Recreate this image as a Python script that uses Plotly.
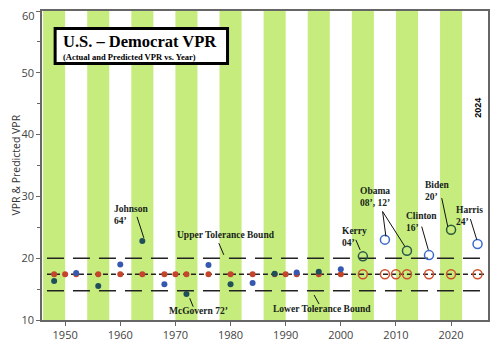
import plotly.graph_objects as go

# ---------------- data ----------------
band_starts = [1946, 1954, 1962, 1970, 1978, 1986, 1994, 2002, 2010, 2018]
band_width = 4

pred_years_filled = [1948, 1950, 1952, 1956, 1960, 1964, 1968, 1970, 1972, 1976,
                     1980, 1984, 1988, 1990, 1992, 1996, 2000]
pred_vals_filled = [17.4] * len(pred_years_filled)
pred_years_open = [2004, 2008, 2010, 2012, 2016, 2020, 2024.8]
pred_vals_open = [17.4] * len(pred_years_open)

act_years_filled = [1948, 1952, 1956, 1960, 1964, 1968, 1972, 1976, 1980, 1984,
                    1988, 1992, 1996, 2000]
act_vals_filled = [16.3, 17.6, 15.5, 19.0, 22.8, 15.8, 14.2, 18.9, 15.8, 16.0,
                   17.5, 17.7, 17.8, 18.2]
act_colors_filled = ["#1f4f5a", "#3558b0", "#1f4f5a", "#3558b0", "#1f4f5a", "#3558b0",
                     "#1f4f5a", "#3558b0", "#1f4f5a", "#3558b0", "#1f4f5a", "#3558b0",
                     "#1f4f5a", "#3558b0"]

act_years_open = [2004, 2008, 2012, 2016, 2020, 2024.8]
act_vals_open = [20.3, 23.0, 21.2, 20.5, 24.6, 22.3]
act_colors_open = ["#2a5a4a", "#3a6acb", "#2a5a4a", "#3a6acb", "#2c5a3a", "#3a6acb"]

predicted_level = 17.4
upper_bound = 20.0
lower_bound = 14.75
line_span = [1946.7, 2026.4]

x_ticks = [1950, 1960, 1970, 1980, 1990, 2000, 2010, 2020]
y_ticks = [10, 20, 30, 40, 50, 60]
y_tick_labels = ["10", "20", "30", "40", "50", "60"]

# ---------------- layout helpers (pixel -> data) ----------------
def X(px):
    return 1950 + (px - 65) / 5.5

def Y(py):
    return 10 + (320 - py) / 6.17

GREEN = "#c5ec7c"
TXT = "#17241a"
SERIF = "Liberation Serif, Times New Roman, serif"
TICKFONT = dict(family="Open Sans, sans-serif", size=11, color="#444")

fig = go.Figure()

# tolerance bounds & predicted line
fig.add_trace(go.Scatter(x=line_span, y=[upper_bound] * 2, mode="lines",
                         line=dict(color="#222", width=1.5, dash="17px,9px"),
                         hoverinfo="skip", showlegend=False))
fig.add_trace(go.Scatter(x=line_span, y=[lower_bound] * 2, mode="lines",
                         line=dict(color="#222", width=1.5, dash="17px,9px"),
                         hoverinfo="skip", showlegend=False))
fig.add_trace(go.Scatter(x=line_span, y=[predicted_level] * 2, mode="lines",
                         line=dict(color="#222", width=1.4, dash="5px,3px"),
                         hoverinfo="skip", showlegend=False))

# predicted points
fig.add_trace(go.Scatter(x=pred_years_filled, y=pred_vals_filled, mode="markers",
                         marker=dict(color="#c4452c", size=6), showlegend=False))
fig.add_trace(go.Scatter(x=pred_years_open, y=pred_vals_open, mode="markers",
                         marker=dict(symbol="circle-open", color="#d0502c", size=9,
                                     line=dict(width=1.5)), showlegend=False))
# actual points
fig.add_trace(go.Scatter(x=act_years_filled, y=act_vals_filled, mode="markers",
                         marker=dict(color=act_colors_filled, size=6), showlegend=False))
fig.add_trace(go.Scatter(x=act_years_open, y=act_vals_open, mode="markers",
                         marker=dict(symbol="circle-open", color=act_colors_open, size=9,
                                     line=dict(width=1.5)), showlegend=False))

shapes = []
for s in band_starts:
    shapes.append(dict(type="rect", xref="x", yref="y", x0=s, x1=s + band_width,
                       y0=10, y1=60, fillcolor=GREEN, line=dict(width=0), layer="below"))

# title box
shapes.append(dict(type="rect", xref="x", yref="y", x0=X(55), x1=X(227), y0=Y(64), y1=Y(29),
                   fillcolor="white", line=dict(color="black", width=3), layer="above"))

# leader lines
leaders = [
    ((136.7, 217), (143.5, 238)),   # Johnson
    ((218.3, 243.3), (223.3, 255)),  # Upper tolerance
    ((189.3, 298.3), (192.7, 306.7)),  # McGovern
    ((313.3, 295), (318.3, 304)),    # Lower tolerance
    ((355, 240), (359.3, 250)),      # Kerry
    ((381.7, 211.7), (385, 236.7)),  # Obama 08
    ((381.7, 211.7), (404, 246.7)),  # Obama 12
    ((420.7, 226.7), (427.3, 250)),  # Clinton
    ((440.7, 198.3), (446.7, 226.7)),  # Biden
    ((469.3, 219.3), (475.7, 240)),  # Harris
]
for (a, b) in leaders:
    shapes.append(dict(type="line", xref="x", yref="y", x0=X(a[0]), y0=Y(a[1]),
                       x1=X(b[0]), y1=Y(b[1]), line=dict(color="#111", width=1)))

annotations = []

def label(text, px, py, size=9.5, xanchor="left", yanchor="middle", color=TXT, font=SERIF):
    annotations.append(dict(x=X(px), y=Y(py), xref="x", yref="y", text=text,
                            showarrow=False, xanchor=xanchor, yanchor=yanchor, align="left",
                            font=dict(family=font, size=size, color=color)))

label("<b>Johnson<br>64’</b>", 112, 215)
label("<b>Upper Tolerance Bound</b>", 175, 235)
label("<b>McGovern 72’</b>", 167, 311)
label("<b>Lower Tolerance Bound</b>", 270, 309)
label("<b>Kerry<br>04’</b>", 339, 237)
label("<b>Obama<br>08’, 12’</b>", 357, 197)
label("<b>Clinton<br>16’</b>", 403, 222)
label("<b>Biden<br>20’</b>", 422, 191.5)
label("<b>Harris<br>24’</b>", 453, 216)

# title
label("<b>U.S. – Democrat VPR</b>", 61, 42, size=16.5, color="black")
label("<b>(Actual and Predicted VPR vs. Year)</b>", 61, 57, size=8.5, color="black")

# vertical 2024
annotations.append(dict(x=X(477), y=Y(108), xref="x", yref="y", text="<b>2024</b>",
                        showarrow=False, textangle=-90, xanchor="center", yanchor="middle",
                        font=dict(family="Liberation Sans, Arial, sans-serif", size=9, color="black")))

# y axis title
annotations.append(dict(x=0, y=0.5, xref="paper", yref="paper", text="VPR & Predicted VPR",
                        showarrow=False, textangle=-90, xshift=-27, xanchor="center",
                        yanchor="middle", font=dict(family="Open Sans, sans-serif", size=10.5,
                                                    color="#333")))

# top tick label drawn as text nudged down so it stays inside the page
annotations.append(dict(x=0, y=y_ticks[-1], xref="paper", yref="y", text=y_tick_labels[-1],
                        showarrow=False, xanchor="right", yanchor="middle", xshift=-5,
                        yshift=-4, font=TICKFONT))

fig.update_layout(
    width=500, height=355,
    margin=dict(l=34, r=20, t=3, b=43),
    paper_bgcolor="white", plot_bgcolor="white",
    shapes=shapes, annotations=annotations,
    showlegend=False,
)
fig.update_xaxes(range=[1945.8, 2026.7], tickvals=x_ticks, ticks="outside", ticklen=4,
                 tickcolor="#666", showline=True, linecolor="#666", linewidth=1.5,
                 mirror=True, showgrid=False, zeroline=False, automargin=False,
                 ticklabeloverflow="allow", tickfont=TICKFONT)
fig.update_yaxes(range=[10, 60], tickvals=y_ticks,
                 ticktext=y_tick_labels[:-1] + [""],
                 ticks="outside", ticklen=4,
                 tickcolor="#666", showline=True, linecolor="#666", linewidth=1.5,
                 mirror=True, showgrid=False, zeroline=False, automargin=False,
                 ticklabeloverflow="allow",
                 minor=dict(dtick=5, ticks="outside", ticklen=3, tickcolor="#666"),
                 tickfont=TICKFONT)

fig.write_html("out.html")
